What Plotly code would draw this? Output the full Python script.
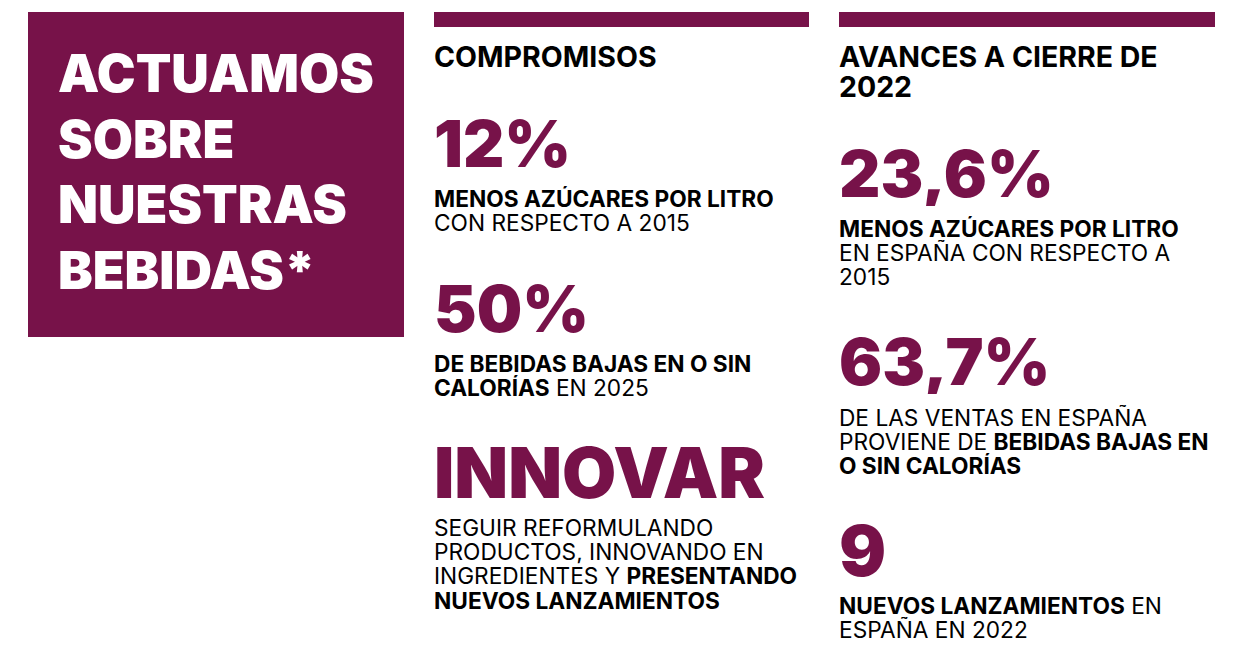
import plotly.graph_objects as go

## Colours
WINE = "#771249"
BLACK = "#000000"
FONT = "Inter"

## Panel title
title_lines = ["ACTUAMOS", "SOBRE", "NUESTRAS", "BEBIDAS*"]

## Column headers
col1_header = ["COMPROMISOS"]
col2_header = ["AVANCES A CIERRE DE", "2022"]

## Big figures and their captions, one row per figure
col1_figures = ["12%", "50%", "INNOVAR"]
col1_captions = [
    ["<b>MENOS AZÚCARES POR LITRO</b>", "CON RESPECTO A 2015"],
    ["<b>DE BEBIDAS BAJAS EN O SIN</b>", "<b>CALORÍAS</b> EN 2025"],
    ["SEGUIR REFORMULANDO", "PRODUCTOS, INNOVANDO EN", "INGREDIENTES Y <b>PRESENTANDO</b>", "<b>NUEVOS LANZAMIENTOS</b>"],
]
col2_figures = ["23,6%", "63,7%", "9"]
col2_captions = [
    ["<b>MENOS AZÚCARES POR LITRO</b>", "EN ESPAÑA CON RESPECTO A", "2015"],
    ["DE LAS VENTAS EN ESPAÑA", "PROVIENE DE <b>BEBIDAS BAJAS EN</b>", "<b>O SIN CALORÍAS</b>"],
    ["<b>NUEVOS LANZAMIENTOS</b> EN", "ESPAÑA EN 2022"],
]

fig = go.Figure()
annotations = []


def add_text(x, y, text, size, box, color=BLACK, weight=400):
    ## annotation box adds a little padding, pull it back to the column edge
    ## box height is fixed since the default line box is taller than the line step here
    annotations.append(dict(
        x=x - 2, y=y, text=text, xref="x", yref="y", showarrow=False,
        xanchor="left", yanchor="middle", align="left", height=box,
        font=dict(family=FONT, size=size, color=color, weight=weight),
    ))


def add_lines(x, y, lines, size, step, color=BLACK, weight=400):
    for n, line in enumerate(lines):
        add_text(x, y + n * step, line, size, step, color, weight)


## Panel and column rules
shapes = [
    dict(type="rect", x0=28, x1=404, y0=12, y1=337, fillcolor=WINE, line_width=0, layer="below"),
    dict(type="rect", x0=434, x1=809, y0=12, y1=27, fillcolor=WINE, line_width=0, layer="below"),
    dict(type="rect", x0=839, x1=1215, y0=12, y1=27, fillcolor=WINE, line_width=0, layer="below"),
]

add_lines(58, 74, title_lines, 52, 65.5, "#ffffff", 900)

add_lines(434, 56, col1_header, 28.5, 30, BLACK, 700)
add_lines(839, 56, col2_header, 28.5, 30, BLACK, 700)

## First column
col1_y = [143, 308, 472]
col1_size = [64, 64, 70]
col1_cap_y = [198, 363, 527]
for fig_text, cap, y, size, cy in zip(col1_figures, col1_captions, col1_y, col1_size, col1_cap_y):
    add_text(434, y, fig_text, size, 66, WINE, 900)
    add_lines(434, cy, cap, 22.7, 24.2)

## Second column
col2_y = [173, 361, 550]
col2_size = [64, 64, 70]
col2_cap_y = [228, 417, 605]
for fig_text, cap, y, size, cy in zip(col2_figures, col2_captions, col2_y, col2_size, col2_cap_y):
    add_text(839, y, fig_text, size, 66, WINE, 900)
    add_lines(839, cy, cap, 22.7, 24.2)

## page has an 8px body margin, so the axes start at 8 to keep the picture in place
fig.update_layout(
    width=1244, height=652,
    margin=dict(l=0, r=0, t=0, b=0),
    paper_bgcolor="#ffffff", plot_bgcolor="#ffffff",
    xaxis=dict(range=[8, 1252], visible=False, fixedrange=True),
    yaxis=dict(range=[660, 8], visible=False, fixedrange=True),
    shapes=shapes, annotations=annotations, showlegend=False,
)

fig.write_html("out.html")
